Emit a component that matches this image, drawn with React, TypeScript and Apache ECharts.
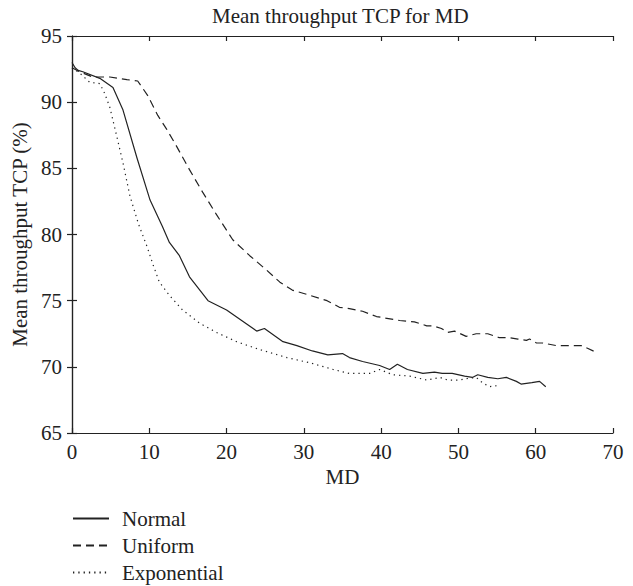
import React, { useEffect, useRef } from "react";
import * as echarts from "echarts";

const titleText = "Mean throughput TCP for MD";
const xName = "MD";
const yName = "Mean throughput TCP (%)";
const seriesNames = ["Normal", "Uniform", "Exponential"];

const normalX = [0, 0.4, 0.8, 1.4, 3.6, 5.3, 6.6, 8.4, 10.1, 11.7, 12.6, 13.9, 15.2, 17.6, 20.0, 23.9, 24.9, 27.3, 29.1, 31.1, 33.1, 35.0, 35.9, 37.6, 39.8, 41.1, 42.1, 43.4, 45.4, 46.9, 47.9, 49.2, 50.8, 51.8, 52.5, 53.8, 55.1, 56.2, 57.5, 58.1, 59.5, 60.5, 61.3];
const normalY = [93.0, 92.6, 92.4, 92.3, 91.8, 91.1, 89.4, 85.8, 82.6, 80.6, 79.4, 78.4, 76.8, 75.0, 74.3, 72.7, 72.9, 71.9, 71.6, 71.2, 70.9, 71.0, 70.7, 70.4, 70.1, 69.8, 70.2, 69.8, 69.5, 69.6, 69.5, 69.5, 69.3, 69.2, 69.4, 69.2, 69.1, 69.2, 68.9, 68.7, 68.8, 68.9, 68.5];

const uniformX = [0, 1, 2.7, 4.9, 7.1, 8.5, 9.8, 11.1, 12.2, 13.5, 15.2, 16.9, 18.7, 20.8, 23.0, 25.2, 26.9, 28.5, 30.8, 33.0, 34.6, 35.9, 37.6, 39.4, 42.4, 44.3, 45.9, 46.7, 47.8, 48.6, 49.5, 51.0, 52.3, 53.8, 55.3, 56.6, 57.7, 58.8, 59.2, 60.1, 60.9, 62.7, 64.4, 65.9, 66.7, 67.8];
const uniformY = [92.6, 92.3, 91.9, 91.9, 91.7, 91.6, 90.5, 89.0, 88.0, 86.7, 84.9, 83.2, 81.5, 79.6, 78.4, 77.3, 76.4, 75.8, 75.4, 75.0, 74.5, 74.4, 74.2, 73.8, 73.5, 73.4, 73.1, 73.1, 72.9, 72.6, 72.7, 72.3, 72.5, 72.5, 72.2, 72.2, 72.1, 72.0, 72.1, 71.8, 71.8, 71.6, 71.6, 71.6, 71.4, 71.1];

const expX = [0, 1, 2.3, 3.6, 4.2, 4.9, 5.8, 6.6, 7.5, 8.6, 9.7, 10.5, 11.3, 12.6, 14.3, 16.5, 18.7, 21.3, 24.3, 27.8, 30.8, 33.8, 35.9, 38.5, 39.8, 41.5, 43.7, 45.9, 47.6, 48.6, 50.0, 51.0, 52.3, 53.1, 54.0, 55.3];
const expY = [92.6, 92.2, 91.5, 91.4, 90.7, 89.6, 87.4, 85.4, 82.9, 80.8, 79.1, 77.7, 76.4, 75.4, 74.3, 73.3, 72.6, 71.9, 71.3, 70.7, 70.3, 69.8, 69.5, 69.5, 69.8, 69.4, 69.3, 69.0, 69.2, 69.0, 69.0, 69.1, 69.2, 68.8, 68.5, 68.6];

const xMin = 0, xMax = 70, xStep = 10;
const yMin = 65, yMax = 95, yStep = 5;

const pair = (xs: number[], ys: number[]) => xs.map((x, i) => [x, ys[i]]);

const FONT = "Liberation Serif";
const INK = "#222";

export default function App() {
  const ref = useRef<HTMLDivElement>(null);
  useEffect(() => {
    if (!ref.current) return;
    const chart = echarts.init(ref.current, undefined, { renderer: "svg" });
    const axisCommon = {
      axisLine: { show: true, lineStyle: { color: INK, width: 1.2 } },
      axisTick: { show: true, inside: true, length: 5, lineStyle: { color: INK, width: 1.2 } },
      splitLine: { show: false },
    };
    const lineBase = (name: string, data: number[][], type: any) => ({
      name,
      type: "line",
      data,
      symbol: "none",
      showSymbol: false,
      smooth: false,
      lineStyle: { color: INK, width: 1.2, type },
      itemStyle: { color: INK },
      xAxisIndex: 0,
      yAxisIndex: 0,
    });
    chart.setOption({
      animation: false,
      backgroundColor: "#fff",
      textStyle: { fontFamily: FONT, color: INK },
      title: {
        text: titleText,
        left: 212,
        top: 5,
        padding: 0,
        textStyle: { fontFamily: FONT, fontSize: 21, fontWeight: "normal", color: INK },
      },
      grid: { left: 72, right: 20, top: 36, bottom: 153, containLabel: false },
      legend: {
        orient: "vertical",
        left: 72,
        top: 508,
        padding: 0,
        itemWidth: 36,
        itemHeight: 14,
        itemGap: 6,
        itemStyle: { opacity: 0 },
        textStyle: { fontFamily: FONT, fontSize: 21, color: INK, padding: [0, 0, 0, 8] },
        data: seriesNames,
      },
      xAxis: [
        {
          type: "value",
          min: xMin,
          max: xMax,
          interval: xStep,
          position: "bottom",
          name: xName,
          nameLocation: "middle",
          nameGap: 33,
          nameTextStyle: { fontFamily: FONT, fontSize: 21, color: INK },
          axisLabel: { fontFamily: FONT, fontSize: 21, color: INK, margin: 8 },
          ...axisCommon,
        },
        {
          type: "value",
          min: xMin,
          max: xMax,
          interval: xStep,
          position: "top",
          axisLabel: { show: false },
          ...axisCommon,
        },
      ],
      yAxis: [
        {
          type: "value",
          min: yMin,
          max: yMax,
          interval: yStep,
          position: "left",
          name: yName,
          nameLocation: "middle",
          nameGap: 34,
          nameTextStyle: { fontFamily: FONT, fontSize: 21, color: INK },
          axisLabel: { fontFamily: FONT, fontSize: 21, color: INK, margin: 10 },
          ...axisCommon,
        },
        {
          type: "value",
          min: yMin,
          max: yMax,
          interval: yStep,
          position: "right",
          axisLabel: { show: false },
          ...axisCommon,
        },
      ],
      series: [
        lineBase(seriesNames[0], pair(normalX, normalY), "solid"),
        lineBase(seriesNames[1], pair(uniformX, uniformY), [8, 5]),
        lineBase(seriesNames[2], pair(expX, expY), [1.3, 4]),
      ],
    });
    return () => chart.dispose();
  }, []);
  return (
    <div
      ref={ref}
      style={{ position: "fixed", left: 0, top: 0, width: 633, height: 586 }}
    />
  );
}
